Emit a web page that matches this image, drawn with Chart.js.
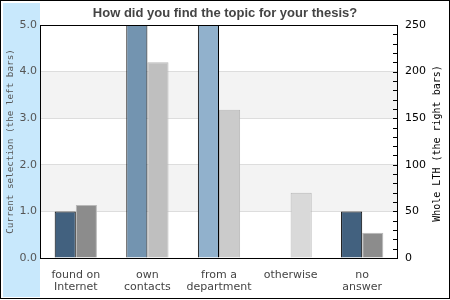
<!DOCTYPE html>
<html>
<head>
<meta charset="utf-8">
<script src="https://cdn.jsdelivr.net/npm/chart.js@4.4.0/dist/chart.umd.min.js"></script>
<style>
  body { margin: 0; background: #fff; }
  #wrap { width: 450px; height: 300px; position: relative; }
</style>
</head>
<body>
<div id="wrap"><canvas id="graph1" width="450" height="300"></canvas></div>
<script>
const categories = [['found on', 'Internet'], ['own', 'contacts'], ['from a', 'department'], 'otherwise', ['no', 'answer']];
// left bars (current selection), two of them run past the top of the axis
const selectionData = [1.0, 7.0, 7.0, null, 1.0];
// right bars (whole LTH)
const lthData = [57, 210, 159, 70, 27];
const leftTicks = [0, 1, 2, 3, 4, 5];
const rightMax = 250;

const selColors = ['#42617f', '#7394b0', '#91b1cc', '#91b1cc', '#42617f'];
const lthColors = ['#8c8c8c', '#bfbfbf', '#cbcbcb', '#d9d9d9', '#8c8c8c'];

function vText(c, txt, x, y, font, color) {
  c.save();
  c.translate(x, y);
  c.rotate(-Math.PI / 2);
  c.font = font;
  c.fillStyle = color;
  c.textAlign = 'center';
  c.textBaseline = 'middle';
  c.fillText(txt, 0, 0);
  c.restore();
}

const decor = {
  id: 'decor',
  beforeDraw(chart) {
    const c = chart.ctx, a = chart.chartArea, y = chart.scales.y;
    c.save();
    c.fillStyle = '#c8e8fc';
    c.fillRect(3, 3, 37, 294);
    // grey bands
    c.fillStyle = '#f3f3f3';
    [[1, 2], [3, 4]].forEach(b => {
      const t = y.getPixelForValue(b[1]), bo = y.getPixelForValue(b[0]);
      c.fillRect(a.left, t, a.right - a.left, bo - t);
    });
    c.restore();
  },
  afterDraw(chart) {
    const c = chart.ctx, a = chart.chartArea, y2 = chart.scales.y2;
    c.save();
    c.strokeStyle = '#000';
    c.lineWidth = 1;
    c.strokeRect(a.left + 0.5, a.top + 0.5, a.right - a.left - 1, a.bottom - a.top);
    // minor ticks on the right axis, inside the frame
    c.beginPath();
    for (let v = 0; v <= rightMax; v += 10) {
      const py = Math.round(y2.getPixelForValue(v)) + 0.5;
      c.moveTo(a.right - 5, py);
      c.lineTo(a.right, py);
    }
    c.stroke();
    // outer frame
    c.strokeRect(0.5, 0.5, 449, 298);
    // title
    c.fillStyle = '#444';
    c.font = 'bold 13px "Liberation Sans", Arial, sans-serif';
    c.textAlign = 'center';
    c.textBaseline = 'middle';
    c.fillText('How did you find the topic for your thesis?', 225, 13);
    c.restore();
    const mid = (a.top + a.bottom) / 2;
    vText(c, 'Current selection (the left bars)', 11, mid, '9.3px "DejaVu Sans Mono"', '#555');
    vText(c, 'Whole LTH (the right bars)', 437, mid + 2, '10px "DejaVu Sans Mono"', '#000');
  }
};

new Chart(document.getElementById('graph1'), {
  type: 'bar',
  data: {
    labels: categories,
    datasets: [
      {
        label: 'Current selection',
        data: selectionData,
        yAxisID: 'y',
        backgroundColor: selColors,
        borderColor: '#000',
        borderWidth: 1,
        borderSkipped: 'bottom'
      },
      {
        label: 'Whole LTH',
        data: lthData,
        yAxisID: 'y2',
        backgroundColor: lthColors,
        borderColor: '#b8b8b8',
        borderWidth: 1,
        borderSkipped: 'bottom'
      }
    ]
  },
  options: {
    responsive: false,
    animation: false,
    layout: { padding: { top: 25 } },
    plugins: { legend: { display: false }, tooltip: { enabled: false } },
    datasets: { bar: { categoryPercentage: 0.59, barPercentage: 1.0 } },
    scales: {
      x: {
        afterFit: s => { s.height = 42; },
        grid: { display: false },
        border: { display: false },
        ticks: { color: '#444', font: { family: 'DejaVu Sans', size: 11, lineHeight: 1.1 }, maxRotation: 0, padding: 3 }
      },
      y: {
        position: 'left',
        min: 0,
        max: 5,
        afterFit: s => { s.width = 40; },
        afterBuildTicks: s => { s.ticks = leftTicks.map(v => ({ value: v })); },
        grid: { color: '#dddddd', drawTicks: false },
        border: { display: false },
        ticks: {
          color: '#555',
          font: { family: 'DejaVu Sans', size: 11 },
          padding: 3,
          callback: v => v.toFixed(1)
        }
      },
      y2: {
        position: 'right',
        min: 0,
        max: rightMax,
        afterFit: s => { s.width = 52; },
        grid: { drawOnChartArea: false, drawTicks: false },
        border: { display: false },
        ticks: {
          stepSize: 50,
          color: '#000',
          font: { family: 'DejaVu Sans', size: 11 },
          padding: 7
        }
      }
    }
  },
  plugins: [decor]
});
</script>
</body>
</html>
